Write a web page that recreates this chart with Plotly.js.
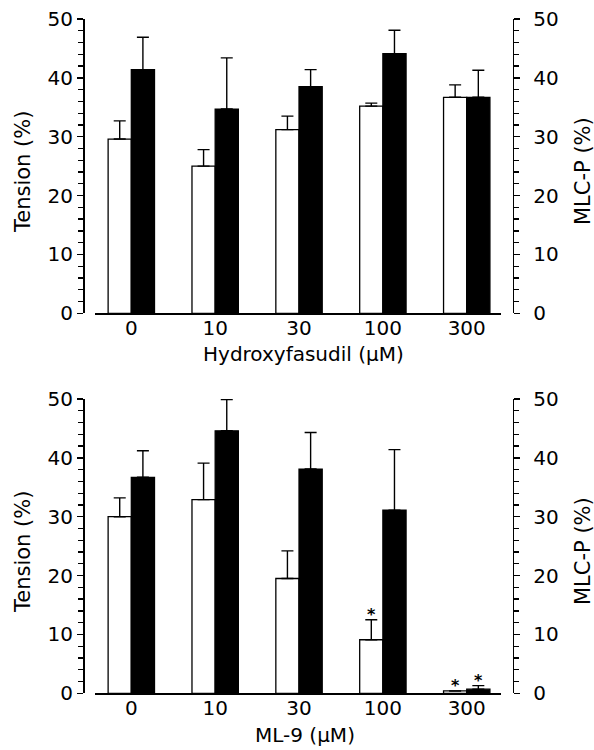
<!DOCTYPE html>
<html>
<head>
<meta charset="utf-8">
<script src="https://cdn.plot.ly/plotly-3.0.1.min.js"></script>
<style>html,body{margin:0;padding:0;background:#fff;}</style>
</head>
<body>
<div id="chart" style="width:594px;height:750px;"></div>
<script>
// ---- data ----
const categories = ['0', '10', '30', '100', '300'];

// Top panel: Hydroxyfasudil
const hfTension = [29.6, 25.0, 31.2, 35.2, 36.7];
const hfTensionErr = [3.1, 2.8, 2.3, 0.5, 2.1];
const hfMLC = [41.4, 34.7, 38.5, 44.1, 36.7];
const hfMLCErr = [5.5, 8.7, 2.9, 4.0, 4.6];

// Bottom panel: ML-9
const ml9Tension = [30.0, 32.9, 19.5, 9.1, 0.4];
const ml9TensionErr = [3.2, 6.2, 4.7, 3.4, 0.0];
const ml9MLC = [36.7, 44.6, 38.1, 31.1, 0.7];
const ml9MLCErr = [4.5, 5.3, 6.2, 10.3, 0.6];
const ml9TensionSig = [false, false, false, true, true];
const ml9MLCSig = [false, false, false, false, true];

const yTicks = [0, 10, 20, 30, 40, 50];

// ---- styling ----
const FONT = 'DejaVu Sans, Liberation Sans, Arial, sans-serif';
const BARGAP = 0.447;
const groupW = 1 - BARGAP;

function barTrace(y, err, fill, xa, ya) {
  return {
    type: 'bar', x: categories, y: y, xaxis: xa, yaxis: ya,
    marker: {color: fill, line: {color: '#000', width: 1.3}},
    error_y: {type: 'data', array: err, arrayminus: err.map(() => 0), symmetric: false,
              color: '#000', thickness: 1.4, width: 6},
    showlegend: false, hoverinfo: 'skip'
  };
}
// invisible carrier so the right-hand (MLC-P) axes are drawn
function carrier(xa, ya) {
  return {type: 'scatter', mode: 'none', x: categories, y: categories.map(() => null),
          xaxis: xa, yaxis: ya, showlegend: false, hoverinfo: 'skip'};
}

const data = [
  barTrace(hfTension, hfTensionErr, '#ffffff', 'x', 'y'),
  barTrace(hfMLC, hfMLCErr, '#000000', 'x', 'y'),
  carrier('x', 'y2'),
  barTrace(ml9Tension, ml9TensionErr, '#ffffff', 'x2', 'y3'),
  barTrace(ml9MLC, ml9MLCErr, '#000000', 'x2', 'y3'),
  carrier('x2', 'y4')
];

const xDom = [95 / 594, 500.7 / 594];
const yLeftPos = 83 / 594;
const yRightPos = 512.7 / 594;
const topDom = [1 - 313.3 / 750, 1 - 19 / 750];
const botDom = [1 - 693.3 / 750, 1 - 399 / 750];
const xRange = [-0.433, 4.405];

function xAxis(anchor) {
  return {
    domain: xDom, anchor: anchor, type: 'category', range: xRange,
    showline: true, linecolor: '#000', linewidth: 1.5,
    ticks: '', showgrid: false, zeroline: false,
    tickfont: {family: FONT, size: 20, color: '#000'},
    ticklabelstandoff: -4, fixedrange: true
  };
}
function yAxis(dom, pos, side, overlay) {
  const a = {
    domain: dom, anchor: 'free', position: pos, side: side, range: [0, 50],
    tickvals: yTicks, ticktext: yTicks.map(String),
    showline: true, linecolor: '#000', linewidth: 1.5,
    ticks: 'outside', ticklen: 6, tickwidth: 1.5, tickcolor: '#000',
    minor: {dtick: 2, ticks: 'outside', ticklen: 5, tickwidth: 1.3, tickcolor: '#000', showgrid: false},
    showgrid: false, zeroline: false,
    tickfont: {family: FONT, size: 20, color: '#000'},
    ticklabelstandoff: side === 'right' ? 9 : 0, fixedrange: true
  };
  if (overlay) a.overlaying = overlay;
  return a;
}

const annotations = [];
function title(text, x, y, angle, size) {
  annotations.push({text: text, xref: 'paper', yref: 'paper', x: x / 594, y: 1 - y / 750,
    xanchor: 'center', yanchor: 'middle', showarrow: false, textangle: angle,
    font: {family: FONT, size: size, color: '#000'}});
}
title('Tension (%)', 23, 172, -90, 21);
title('MLC-P (%)', 583, 171, -90, 21);
title('Tension (%)', 23, 552, -90, 21);
title('MLC-P (%)', 583, 551, -90, 21);
title('Hydroxyfasudil (µM)', 303, 354, 0, 20);
title('ML-9 (µM)', 305, 735, 0, 20);

// significance asterisks above bars (bottom panel)
function stars(vals, errs, sig, offset) {
  sig.forEach((s, i) => {
    if (!s) return;
    annotations.push({text: '<b>*</b>', xref: 'x2', yref: 'y3', x: i + offset, y: vals[i] + errs[i],
      xanchor: 'center', yanchor: 'bottom', showarrow: false, yshift: -6,
      font: {family: FONT, size: 16, color: '#000'}});
  });
}
stars(ml9Tension, ml9TensionErr, ml9TensionSig, -groupW / 4);
stars(ml9MLC, ml9MLCErr, ml9MLCSig, groupW / 4);

const layout = {
  width: 594, height: 750,
  margin: {l: 0, r: 0, t: 0, b: 0},
  paper_bgcolor: '#fff', plot_bgcolor: 'rgba(0,0,0,0)',
  barmode: 'group', bargap: BARGAP, bargroupgap: 0,
  showlegend: false,
  font: {family: FONT, size: 20, color: '#000'},
  xaxis: xAxis('y'),
  yaxis: yAxis(topDom, yLeftPos, 'left'),
  yaxis2: yAxis(topDom, yRightPos, 'right', 'y'),
  xaxis2: xAxis('y3'),
  yaxis3: yAxis(botDom, yLeftPos, 'left'),
  yaxis4: yAxis(botDom, yRightPos, 'right', 'y3'),
  annotations: annotations
};

Plotly.newPlot('chart', data, layout, {displayModeBar: false, staticPlot: true});
</script>
</body>
</html>
